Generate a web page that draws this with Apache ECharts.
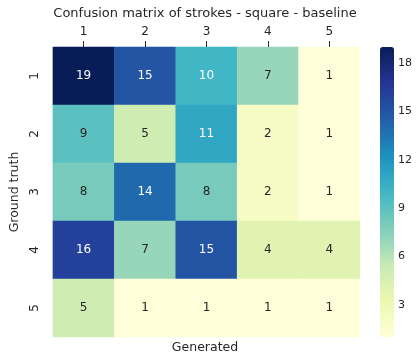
<!DOCTYPE html>
<html><head><meta charset="utf-8">
<script src="https://cdn.jsdelivr.net/npm/echarts@6/dist/echarts.min.js"></script>
<style>html,body{margin:0;padding:0;background:#fff}#c{width:420px;height:359px}</style>
</head><body><div id="c"></div>
<script>
const generatedLabels = ['1','2','3','4','5'];
const truthLabels = ['1','2','3','4','5'];
const row1 = [19, 15, 10, 7, 1];
const row2 = [9, 5, 11, 2, 1];
const row3 = [8, 14, 8, 2, 1];
const row4 = [16, 7, 15, 4, 4];
const row5 = [5, 1, 1, 1, 1];
const colorbarTicks = [3, 6, 9, 12, 15, 18];
const colorMin = 1, colorMax = 19;

const rows = [row1, row2, row3, row4, row5];
const data = [];
rows.forEach((r, yi) => r.forEach((v, xi) => data.push([xi, yi, v])));

const FONT = 'DejaVu Sans';
const TXT = '#262626';
const chart = echarts.init(document.getElementById('c'), null, {renderer: 'canvas'});
chart.setOption({
  animation: false,
  textStyle: {fontFamily: FONT},
  title: [
    {text: 'Confusion matrix of strokes - square - baseline', left: 205, top: 7, textAlign: 'center', padding: 0,
     textStyle: {fontFamily: FONT, fontSize: 13, fontWeight: 'normal', color: TXT}},
    {text: 'Generated', left: 205, top: 341, textAlign: 'center', padding: 0,
     textStyle: {fontFamily: FONT, fontSize: 12.5, fontWeight: 'normal', color: TXT}}
  ],
  grid: [
    {left: 50, top: 47, width: 310, height: 290},
    {left: 380, top: 47, width: 14, height: 290}
  ],
  xAxis: [
    {type: 'category', data: generatedLabels, position: 'top', gridIndex: 0,
     axisLine: {show: false}, splitArea: {show: false},
     axisTick: {show: true, alignWithLabel: true, length: 6, lineStyle: {color: TXT}},
     axisLabel: {fontFamily: FONT, fontSize: 12, color: TXT, margin: 9}},
    {type: 'value', gridIndex: 1, show: false, min: 0, max: 1}
  ],
  yAxis: [
    {type: 'category', data: truthLabels, inverse: true, gridIndex: 0,
     axisLine: {show: false},
     axisTick: {show: false},
     axisLabel: {fontFamily: FONT, fontSize: 12, color: TXT, rotate: 90, margin: 12},
     name: 'Ground truth', nameLocation: 'middle', nameRotate: 90, nameGap: 26,
     nameTextStyle: {fontFamily: FONT, fontSize: 12.5, color: TXT}},
    {type: 'value', gridIndex: 1, position: 'right', min: colorMin, max: colorMax,
     splitLine: {show: false}, axisLine: {show: false},
     axisTick: {show: true, length: 5, lineStyle: {color: TXT}, customValues: colorbarTicks},
     axisLabel: {fontFamily: FONT, fontSize: 11, color: TXT, margin: 4, customValues: colorbarTicks}}
  ],
  visualMap: {
    type: 'continuous', min: colorMin, max: colorMax, seriesIndex: 0,
    calculable: false, show: true, left: 380, top: 47, itemWidth: 14, itemHeight: 290,
    padding: 0, text: null, showLabel: false, hoverLink: false,
    inRange: {color: ['#ffffd9','#edf8b1','#c7e9b4','#7fcdbb','#41b6c4','#1d91c0','#225ea8','#253494','#081d58']}
  },
  series: [{
    type: 'heatmap', xAxisIndex: 0, yAxisIndex: 0,
    data: data.map(d => ({value: d, label: {color: d[2] >= 10 ? '#ffffff' : TXT}})),
    label: {show: true, fontFamily: FONT, fontSize: 12, formatter: p => String(p.value[2])},
    itemStyle: {borderWidth: 0}
  }]
});
</script></body></html>
